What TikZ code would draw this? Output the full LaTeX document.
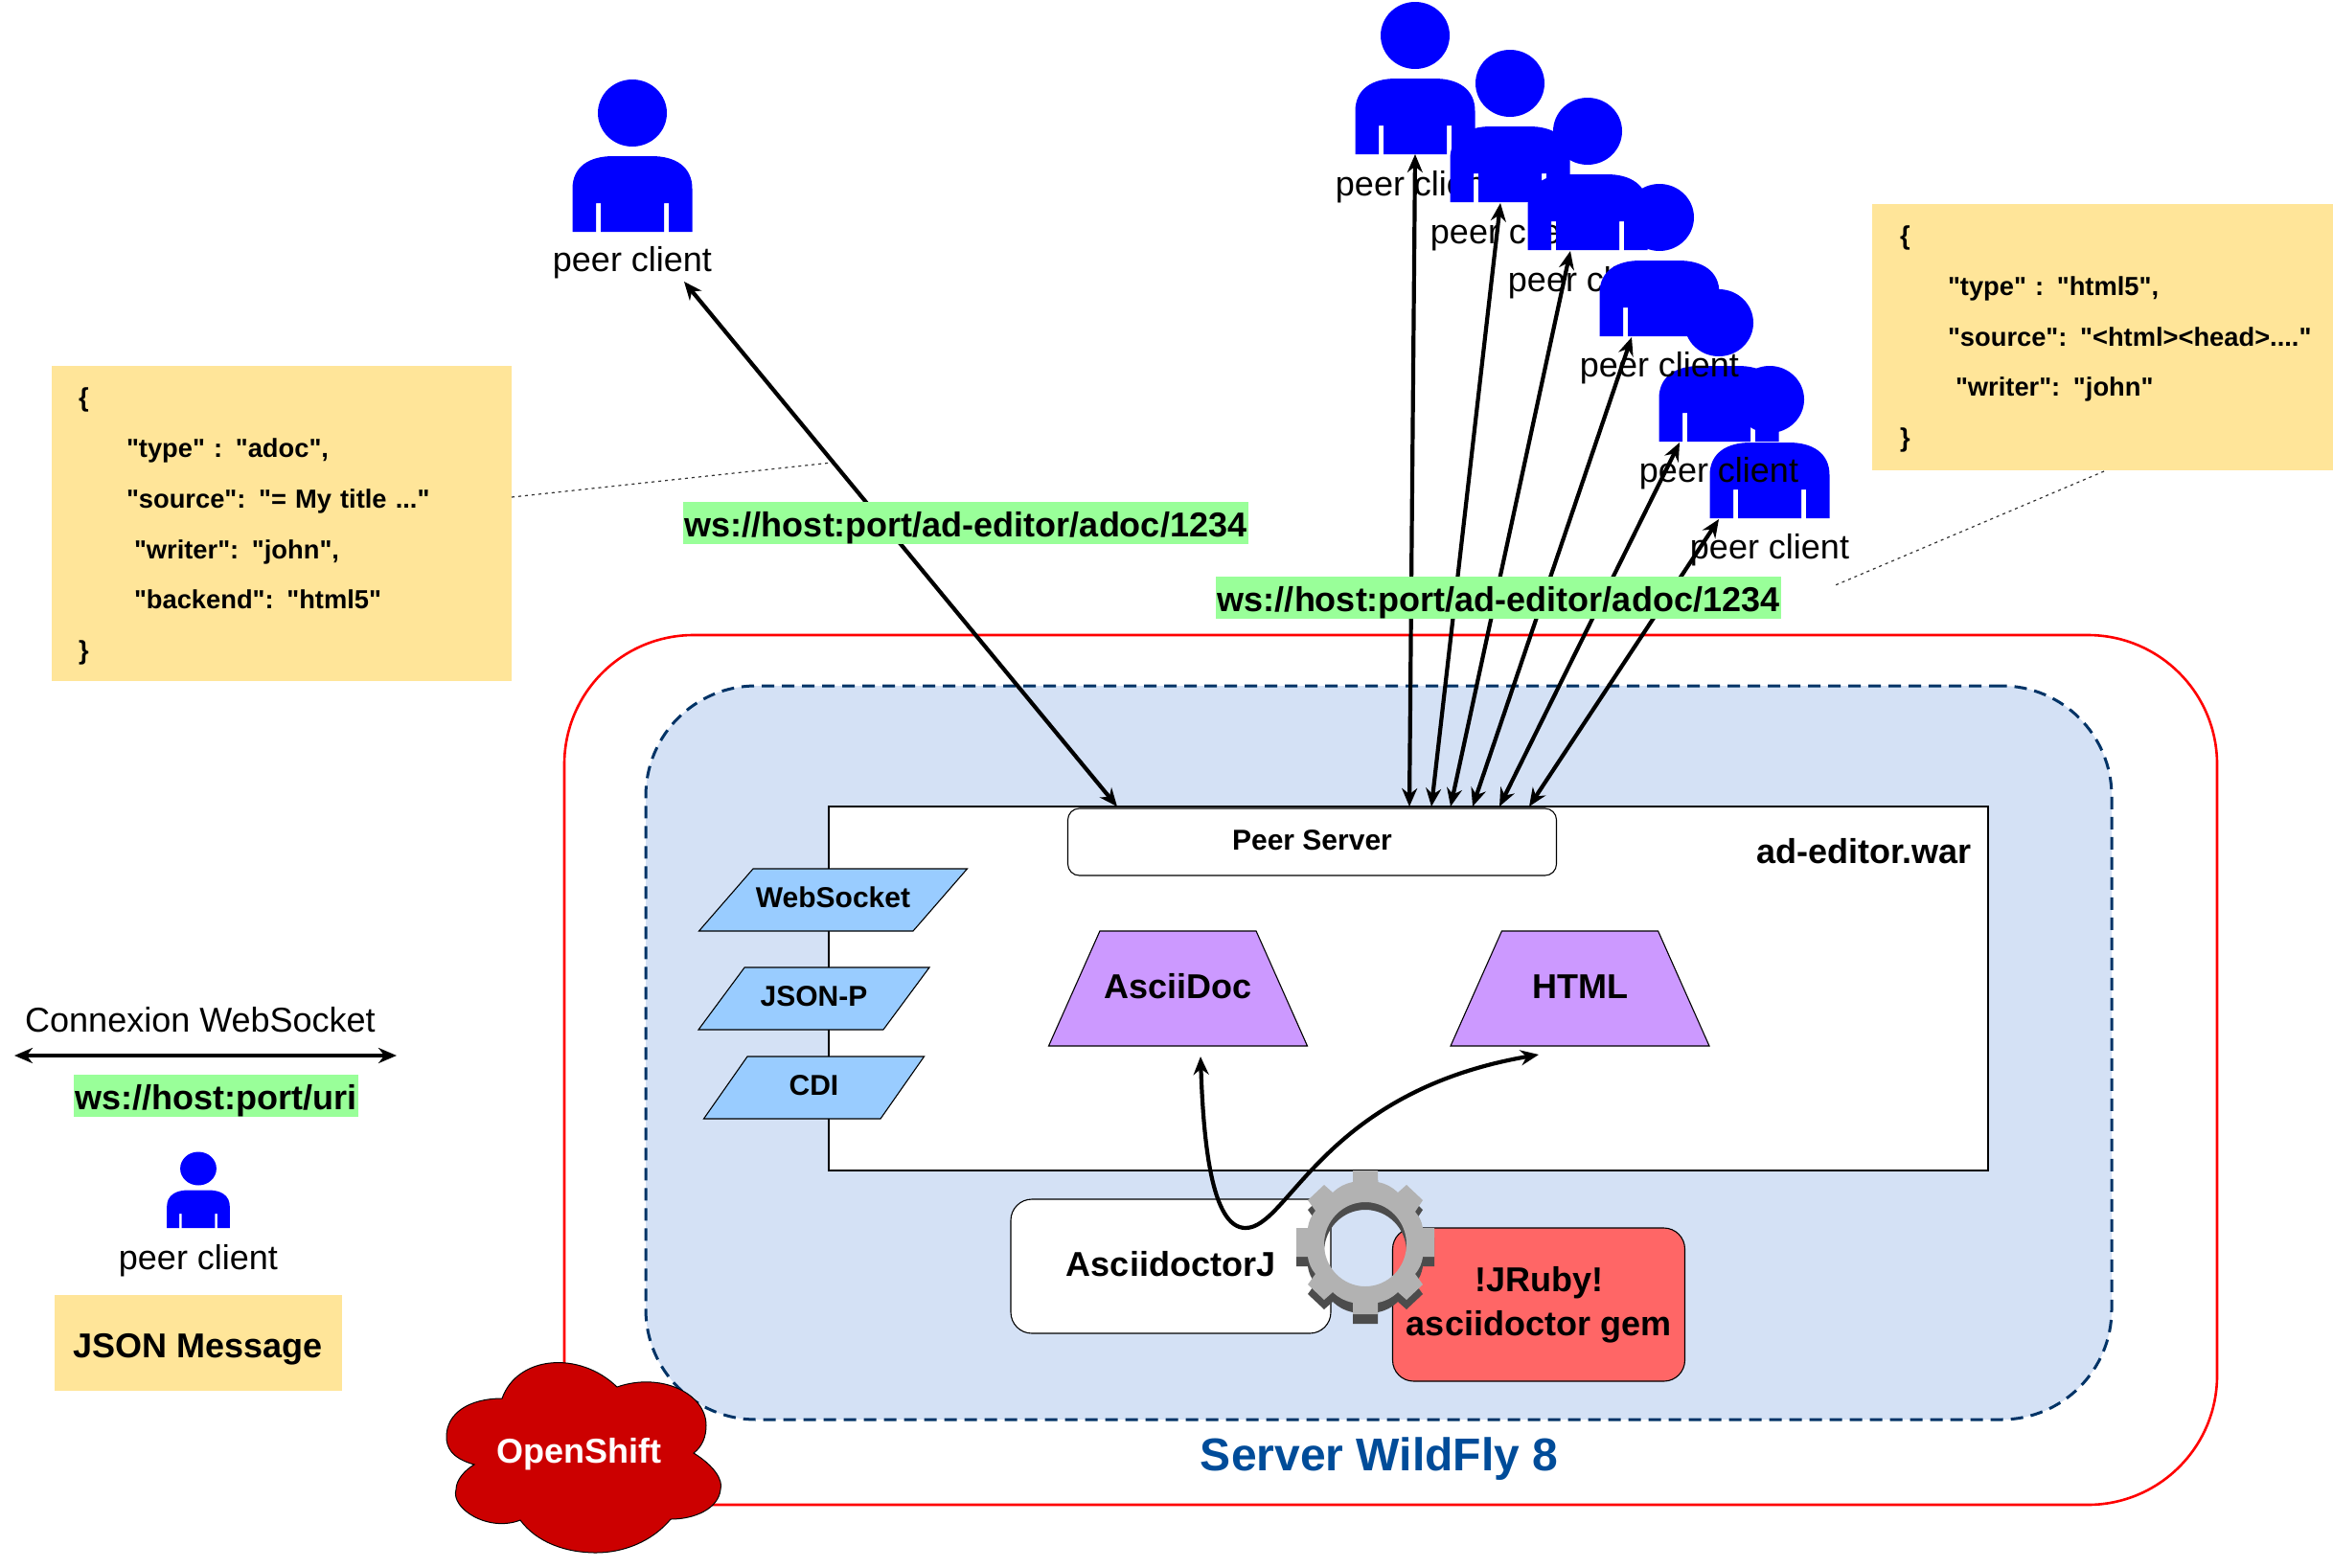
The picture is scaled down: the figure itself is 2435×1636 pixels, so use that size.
\documentclass[tikz,border=0pt]{standalone}
\usepackage{fontspec}
\setmainfont{Liberation Sans}[Ligatures=TeXOff]
\usetikzlibrary{arrows.meta, positioning, calc, shapes.geometric}

\definecolor{noteyellow}{HTML}{FFE599}
\definecolor{wsgreen}{HTML}{99FF99}
\definecolor{libblue}{HTML}{99CCFF}
\definecolor{docpurple}{HTML}{CC99FF}
\definecolor{wildblue}{HTML}{D4E1F5}
\definecolor{wilddash}{HTML}{003366}
\definecolor{wildtext}{HTML}{004C99}
\definecolor{gemred}{HTML}{FF6666}

\newcommand{\gearoutline}{(-13,-75) -- (13,-75) -- (13,-63) to[bend left=15] (34,-52) -- (43,-60) -- (60,-44) -- (52,-32) to[bend left=15] (60,-15) -- (72,-15) -- (72,15) -- (60,15) to[bend left=15] (52,33) -- (60,44) -- (43,60) -- (34,52) to[bend left=15] (13,63) -- (13,75) -- (-13,75) -- (-13,63) to[bend left=15] (-34,52) -- (-43,60) -- (-60,44) -- (-52,33) to[bend left=15] (-60,15) -- (-72,15) -- (-72,-15) -- (-60,-15) to[bend left=15] (-52,-33) -- (-60,-44) -- (-43,-60) -- (-34,-52) to[bend left=15] (-13,-63) -- cycle}

\tikzset{
  peer/.pic={
    \fill[blue] (0,-124) circle[x radius=36, y radius=35];
    \fill[blue] (-62.5,0) -- (-62.5,-45) .. controls (-62.5,-68) and (-45,-79) .. (-20,-79) -- (20,-79) .. controls (45,-79) and (62.5,-68) .. (62.5,-45) -- (62.5,0) -- (38,0) -- (38,-30) -- (33,-30) -- (33,0) -- (-33,0) -- (-33,-30) -- (-38,-30) -- (-38,0) -- cycle;
    \coordinate (-foot) at (0,0);
  }
}

\begin{document}
\begin{tikzpicture}[
  x=1pt, y=-1pt,
  frame/.style={draw, line width=1.1pt, inner sep=0pt},
  bigtext/.style={font=\fontsize{36}{46}\selectfont\bfseries},
  midtext/.style={font=\fontsize{30}{36}\selectfont\bfseries},
  wildfly/.style={draw=red, line width=2.6pt, rounded corners=135pt, minimum width=1725, minimum height=908, inner sep=0pt},
  container/.style={draw=wilddash, fill=wildblue, line width=3pt, dash pattern=on 13pt off 8pt, rounded corners=115pt, minimum width=1530, minimum height=766, inner sep=0pt},
  libbox/.style={frame, midtext, fill=libblue, trapezium, trapezium stretches body, text height=40, text depth=25},
  docbox/.style={frame, bigtext, fill=docpurple, trapezium, trapezium left angle=66, trapezium right angle=66, trapezium stretches body, minimum width=270, text height=70, text depth=50},
  gembox/.style={frame, bigtext, rounded corners=22pt, align=center},
  rel/.style={{Stealth[length=19pt,width=16pt]}-{Stealth[length=19pt,width=16pt]}, line width=4.2pt},
  wsurl/.style={bigtext, fill=wsgreen, inner xsep=1.5pt, inner ysep=0pt, text height=36, text depth=8},
  peerlabel/.style={font=\fontsize{36}{43}\selectfont, inner sep=0pt},
  note/.style={fill=noteyellow, font=\fontsize{27.3}{52.8}\selectfont\bfseries, align=left, inner xsep=0pt, inner ysep=0pt},
  callout/.style={black!80, line width=1.2pt, dash pattern=on 3pt off 4pt}
]
\useasboundingbox (0,0) rectangle (2435,1636);

% containers
\node[wildfly] (server) at (1451.5,1117) {};
\node[container] (wildfly) at (1439,1099) {};
\node[frame, fill=white, minimum width=1210, minimum height=380] (war) at (1470,1032) {};
\node[bigtext, inner sep=0pt] (warName) at (1945,889) {ad-editor.war};
\node[font=\fontsize{48}{56}\selectfont\bfseries, text=wildtext, inner sep=0pt] (serverName) at (1439.5,1523) {Server WildFly 8};

% war content
\node[frame, midtext, fill=white, rounded corners=12pt, minimum width=510, minimum height=70] (peerServer) at (1369.5,879) {\raisebox{3pt}{Peer Server}};
\node[libbox, trapezium left angle=49, trapezium right angle=131, minimum width=280] (webSocket) at (869.5,939.5) {WebSocket};
\node[libbox, trapezium left angle=53.5, trapezium right angle=126.5, minimum width=241] (jsonP) at (849.5,1042.5) {JSON-P};
\node[libbox, trapezium left angle=55, trapezium right angle=125, minimum width=230] (cdi) at (849.5,1135.5) {CDI};
\node[docbox] (asciiDoc) at (1229.5,1032) {AsciiDoc};
\node[docbox] (html) at (1649,1032) {HTML};

% render engine
\node[gembox, fill=white, minimum width=334, minimum height=140] (asciidoctorJ) at (1222,1322) {\raisebox{5pt}{AsciidoctorJ}};
\node[gembox, fill=gemred, minimum width=305, minimum height=160] (jruby) at (1606,1362) {!JRuby!\\asciidoctor gem};
\begin{scope}[shift={(1425,1297)}]
  \fill[black!70, even odd rule, shift={(0,10)}] \gearoutline (0,0) circle[x radius=43, y radius=44];
  \fill[black!30, even odd rule] \gearoutline (0,2) circle[x radius=43, y radius=44];
\end{scope}

% openshift cloud
\draw[fill=red!80!black, line width=1pt] (524,1460) .. controls (540,1415) and (605,1410) .. (644,1448) .. controls (690,1432) and (737,1455) .. (737,1488) .. controls (737,1500) and (733,1510) .. (724,1517) .. controls (745,1530) and (755,1545) .. (752,1555) .. controls (750,1575) and (725,1586) .. (700,1586) .. controls (680,1610) and (650,1621) .. (622,1621) .. controls (590,1621) and (560,1610) .. (543,1587) .. controls (510,1600) and (470,1575) .. (476,1555) .. controls (476,1545) and (485,1535) .. (495,1529) .. controls (470,1522) and (466,1510) .. (466,1500) .. controls (466,1475) and (490,1460) .. (524,1460) -- cycle;
\node[bigtext, text=white, inner sep=0pt] (openShift) at (604,1518) {OpenShift};

% peers, the top ones hide the labels below them
\pic (p0) at (660,242) {peer};
\node[peerlabel] (l0) at (660,274) {peer client};
\pic (p1) at (1477,161) {peer};
\node[peerlabel] (l1) at (1477,195) {peer client};
\pic (p2) at (1576,211) {peer};
\node[peerlabel] (l2) at (1576,245) {peer client};
\pic (p3) at (1657,261) {peer};
\node[peerlabel] (l3) at (1657,295) {peer client};
\pic (p6) at (1847,541) {peer};
\node[peerlabel] (l6) at (1847,574) {peer client};
\pic (p5) at (1794,461) {peer};
\node[peerlabel] (l5) at (1794,494) {peer client};
\pic (p4) at (1732,351) {peer};
\node[peerlabel] (l4) at (1732,384) {peer client};

% websocket links
\coordinate (s0) at (1166,842);
\coordinate (s1) at (1471,842);
\coordinate (s2) at (1494,842);
\coordinate (s3) at (1514,842);
\coordinate (s4) at (1537,842);
\coordinate (s5) at (1565,842);
\coordinate (s6) at (1596,842);
\draw[rel] (714,294) -- (s0);
\draw[rel] (p1-foot) -- (s1);
\draw[rel] ($(p2-foot)+(-10,1)$) -- (s2);
\draw[rel] ($(p3-foot)+(-18,1)$) -- (s3);
\draw[rel] ($(p4-foot)+(-29,1)$) -- (s4);
\draw[rel] ($(p5-foot)+(-41,1)$) -- (s5);
\draw[rel] ($(p6-foot)+(-53,1)$) -- (s6);
\coordinate (renderFrom) at (1300,1282);
\draw[rel] (1253,1103) .. controls (1256,1190) and (1264,1282) .. (renderFrom) .. controls (1345,1282) and (1380,1140) .. (1606,1101);

% notes
\node[note, text width=480, minimum height=329] (noteAdoc) at (294,546.5) {\rule{0pt}{26pt}\hspace*{28pt}\{\\\hspace*{78pt}"type" : "adoc",\\\hspace*{78pt}"source": "= My title ..."\\\hspace*{86pt}"writer": "john",\\\hspace*{86pt}"backend": "html5"\\\hspace*{28pt}\}};
\node[note, text width=481, minimum height=278] (noteHtml) at (2194.5,352) {\rule{0pt}{24pt}\hspace*{29pt}\{\\\hspace*{79pt}"type" : "html5",\\\hspace*{79pt}"source": "<html><head>...."\\\hspace*{87pt}"writer": "john"\\\hspace*{29pt}\}};
\coordinate (calloutAdoc) at (868,483);
\coordinate (calloutHtml) at (1913,612);
\draw[callout] (534,519) -- (calloutAdoc);
\draw[callout] (2196,492) -- (calloutHtml);

\node[wsurl] (urlOne) at (1008,546) {ws://host:port/ad-editor/adoc/1234};
\node[wsurl] (urlMany) at (1564,624) {ws://host:port/ad-editor/adoc/1234};

% legend
\node[peerlabel] (legendLink) at (209,1065) {Connexion WebSocket};
\coordinate (legendA) at (15,1102);
\coordinate (legendB) at (414,1102);
\draw[rel] (legendA) -- (legendB);
\node[wsurl] (legendUrl) at (225.5,1144) {ws://host:port/uri};
\pic[xscale=.525, yscale=.5] (legendPeer) at (207,1282) {peer};
\node[peerlabel] (legendPeerName) at (207,1316) {peer client};
\node[note, bigtext, minimum width=300, minimum height=100, align=center, text height=45, text depth=15] (legendNote) at (207,1402) {JSON Message};
\end{tikzpicture}
\end{document}
